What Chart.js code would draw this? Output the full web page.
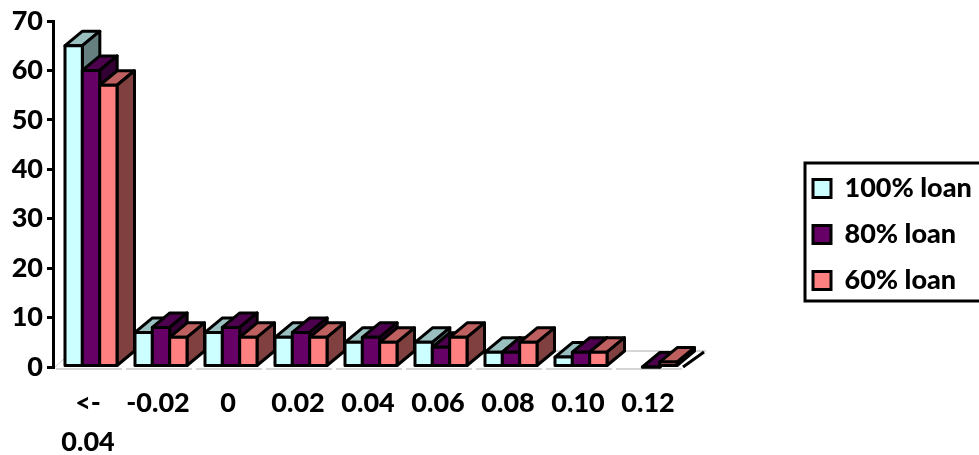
<!DOCTYPE html>
<html>
    <head>
        <title>Loan chart</title>
        <style>
            html, body { margin: 0; padding: 0; background: white; }
            #chartbox { width: 979px; height: 455px; }
        </style>
    </head>
    <body>
        <div id="chartbox"><canvas id="chartcanvas"></canvas></div>

        <script src="https://cdn.jsdelivr.net/npm/chart.js@4/dist/chart.umd.min.js"></script>
        <script>
            const categories = [['<-', '0.04'], '-0.02', '0', '0.02', '0.04', '0.06', '0.08', '0.10', '0.12'];
            const loan100 = [65, 7, 7, 6, 5, 5, 3, 2, null];
            const loan80 = [60, 8, 8, 7, 6, 4, 3, 3, 0];
            const loan60 = [57, 6, 6, 6, 5, 6, 5, 3, 1];
            const yTicks = [0, 10, 20, 30, 40, 50, 60, 70];

            const fontName = 'Lato, "Open Sans", sans-serif';
            const depthX = 17.5;
            const depthY = 14.5;
            const barShift = 3; // bars sit a little right of their labels
            const edge = 3;

            function shade(hex, f){
                const n = parseInt(hex.slice(1), 16);
                return 'rgb(' + Math.round((n >> 16) * f) + ',' + Math.round(((n >> 8) & 255) * f) + ',' + Math.round((n & 255) * f) + ')';
            }

            function face(c, pts, fill){
                c.beginPath();
                pts.forEach((p, i) => i ? c.lineTo(p[0], p[1]) : c.moveTo(p[0], p[1]));
                c.closePath();
                c.fillStyle = fill;
                c.fill();
                c.stroke();
            }

            // floor of the fake 3d box, one grey piece per category
            function drawFloor(chart){
                const c = chart.ctx, xs = chart.scales.x, y0 = chart.scales.y.getPixelForValue(0);
                const half = xs.getPixelForValue(1) - xs.getPixelForValue(0);
                c.save();
                c.strokeStyle = '#c8c8c8';
                c.lineWidth = 1.5;
                categories.forEach((cat, i) => {
                    const x = xs.getPixelForValue(i);
                    c.beginPath();
                    c.moveTo(x - half / 2 + 3, y0 + 2);
                    c.lineTo(x + half / 2 - 1, y0 + 2);
                    c.stroke();
                });
                c.beginPath();
                c.moveTo(xs.left + 20, y0 - 16);
                c.lineTo(xs.right + 23, y0 - 16);
                c.stroke();
                c.lineWidth = 1;
                c.beginPath();
                c.moveTo(xs.left + 2, y0);
                c.lineTo(xs.left + 12, y0 - 9);
                c.stroke();
                c.strokeStyle = 'black';
                c.lineWidth = edge;
                c.beginPath();
                c.moveTo(xs.right, y0);
                c.lineTo(xs.right + 21, y0 - 15);
                c.stroke();
                c.restore();
            }

            const boxBars = {
                id: 'boxBars',
                afterLayout(chart){
                    const l = chart.legend;
                    l.left = 794;
                    l.right = 979;
                    l.top = 156;
                    l.bottom = 320;
                },
                beforeDraw(chart){
                    // frame round the legend
                    const c = chart.ctx, l = chart.legend;
                    c.save();
                    c.strokeStyle = 'black';
                    c.lineWidth = edge;
                    c.strokeRect(l.left + 11, l.top + 7, 200, 138);
                    c.restore();
                },
                beforeDatasetsDraw(chart){
                    const c = chart.ctx;
                    drawFloor(chart);
                    c.save();
                    c.translate(barShift, 0);
                    c.strokeStyle = 'black';
                    c.lineWidth = edge;
                    c.lineJoin = 'round';
                    chart.data.datasets.forEach((ds, d) => {
                        chart.getDatasetMeta(d).data.forEach((bar, i) => {
                            if (ds.data[i] === null) return;
                            const p = bar.getProps(['x', 'y', 'base', 'width']);
                            const l = p.x - p.width / 2, r = p.x + p.width / 2;
                            face(c, [[l, p.y], [l + depthX, p.y - depthY], [r + depthX, p.y - depthY], [r, p.y]], shade(ds.backgroundColor, 0.75));
                            face(c, [[r, p.y], [r + depthX, p.y - depthY], [r + depthX, p.base - depthY], [r, p.base]], shade(ds.backgroundColor, 0.5));
                            bar.draw(c);
                            c.strokeRect(l, p.y, p.width, p.base - p.y);
                        });
                    });
                    c.restore();
                    return false;
                }
            };

            new Chart(document.getElementById('chartcanvas'), {
                type: 'bar',
                data: {
                    labels: categories,
                    datasets: [
                        { label: '100% loan', data: loan100, backgroundColor: '#CCFFFF', borderWidth: 0 },
                        { label: '80% loan', data: loan80, backgroundColor: '#660066', borderWidth: 0 },
                        { label: '60% loan', data: loan60, backgroundColor: '#FF8080', borderWidth: 0 }
                    ]
                },
                plugins: [boxBars],
                options: {
                    responsive: true,
                    maintainAspectRatio: false,
                    animation: false,
                    events: [],
                    categoryPercentage: 0.743,
                    barPercentage: 1,
                    layout: { padding: { left: 0, top: 21, right: 295, bottom: 0 } },
                    plugins: {
                        tooltip: { enabled: false },
                        legend: {
                            position: 'right',
                            align: 'start',
                            maxWidth: 1,
                            labels: {
                                boxWidth: 18,
                                boxHeight: 18,
                                padding: 19,
                                color: 'black',
                                font: { family: fontName, size: 27, weight: 900, lineHeight: 1 },
                                generateLabels(chart){
                                    return Chart.defaults.plugins.legend.labels.generateLabels(chart).map(it => {
                                        it.lineWidth = edge;
                                        it.strokeStyle = 'black';
                                        return it;
                                    });
                                }
                            }
                        }
                    },
                    scales: {
                        x: {
                            afterFit(s){ s.height = 88; },
                            grid: { display: false },
                            border: { display: false },
                            ticks: {
                                color: 'black',
                                autoSkip: false,
                                maxRotation: 0,
                                padding: 9,
                                font: { family: fontName, size: 27, weight: 900, lineHeight: 1.45 }
                            }
                        },
                        y: {
                            min: 0,
                            max: 70,
                            afterFit(s){ s.width = 53; },
                            afterBuildTicks(s){ s.ticks = yTicks.map(v => ({ value: v })); },
                            grid: { drawOnChartArea: false, color: 'black', lineWidth: edge, tickLength: 6 },
                            border: { color: 'black', width: edge },
                            ticks: {
                                color: 'black',
                                padding: 4,
                                font: { family: fontName, size: 27, weight: 900 }
                            }
                        }
                    }
                }
            });
        </script>
    </body>
</html>
